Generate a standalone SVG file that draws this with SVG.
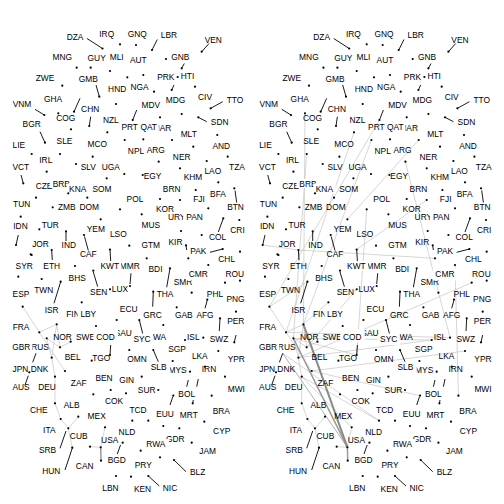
<svg xmlns="http://www.w3.org/2000/svg" width="504" height="504" viewBox="0 0 504 504">
<style>
text{font-family:"Liberation Sans",Arial,sans-serif;font-size:8.4px;text-anchor:middle;fill:#000}
circle{r:1.1px;fill:#000}
.s{stroke:#000;stroke-width:0.9;fill:none}
.bg{fill:#fff}
.e path{stroke:#c4c4c4;stroke-width:0.7;fill:none}
.e .t1{stroke:#8a8a8a;stroke-width:2}
.e .t2{stroke:#9a9a9a;stroke-width:1.5}
.e .t3{stroke:#b0b0b0;stroke-width:1}
</style>
<rect width="504" height="504" fill="#fff"/>
<g id="edges-a" class="e">
<path d="M22.7 306.7L39.3 332.3M39.3 332.3L56.7 324.3M39.3 332.3L65 371M56.7 324.3L60 347.3M56.7 324.3L51.7 357.7M46.7 338.3L60 347.3M60 347.3L70.7 341.7M46.7 338.3L51.7 357.7M51.7 357.7L55 376.7M55 376.7L55 403.3M55 403.3L60.7 419M60.7 419L68.3 428.3M78.3 416.7L68.3 428.3M68.3 428.3L72.3 447.7M90 446.7L100.7 447.3M105 427.3L100.7 447.3"/>
<path class="t2" d="M100.7 447.3L101 460.7"/>
</g>
<g id="edges-b" class="e" transform="translate(246.7,0)">
<path d="M22.7 306.7L39.3 332.3M39.3 332.3L56.7 324.3M39.3 332.3L65 371M56.7 324.3L60 347.3M56.7 324.3L51.7 357.7M46.7 338.3L60 347.3M60 347.3L70.7 341.7M46.7 338.3L51.7 357.7M51.7 357.7L55 376.7M55 376.7L55 403.3M55 403.3L60.7 419M60.7 419L68.3 428.3M78.3 416.7L68.3 428.3M68.3 428.3L72.3 447.7M90 446.7L100.7 447.3M105 427.3L100.7 447.3"/>
<path d="M58.3 113.3L56.7 324.3M60 154L46.7 338.3M107.3 132.3L39.3 332.3M132.7 120L22.7 306.7M124.7 140L56.7 324.3M172 140L100.7 219.3M180 200L110 249.5M158.7 161.7L203.3 337.7M120 209.3L110 355M16 245L51.7 250M51.7 250L188.3 258.3M22.7 306.7L60.7 281.7M110 289.3L60 347.3M81.7 302.3L56.7 324.3M46.7 338.3L185 340M39.3 332.3L203.3 337.7M51.7 357.7L185 340M51.7 357.7L225 282.7M65 371L218.3 351M55 376.7L132.3 420.7M36 353.3L132.3 420.7M65 371L173.3 395.7M55 376.7L105 427.3M208.3 265L211.7 395.7M46.7 338.3L110 355"/>
<path class="t3" d="M36 353.3L100.7 447.3"/>
<path class="t2" d="M46.7 338.3L100.7 447.3M100.7 447.3L101 460.7"/>
<path class="t1" d="M56.7 324.3L100.7 447.3"/>
</g>
<g id="nodes-a">
<g id="a-DZA"><path class="s" d="M87 38.5L102.5 48.5"/><circle cx="102.5" cy="48.5"/><text x="75" y="40">DZA</text></g>
<g id="a-IRQ"><circle cx="120" cy="44.3"/><text x="106.7" y="36.7">IRQ</text></g>
<g id="a-GNQ"><circle cx="136" cy="45"/><text x="137.3" y="36.7">GNQ</text></g>
<g id="a-LBR"><path class="s" d="M157.3 39.5L152 50"/><circle cx="152" cy="50"/><text x="169" y="38.3">LBR</text></g>
<g id="a-VEN"><path class="s" d="M209 43.5L201.7 51.7"/><circle cx="201.7" cy="51.7"/><text x="213.3" y="42.7">VEN</text></g>
<g id="a-MNG"><circle cx="76.7" cy="67.7"/><text x="62.2" y="60">MNG</text></g>
<g id="a-GUY"><circle cx="90.7" cy="67.7"/><text x="96.7" y="61">GUY</text></g>
<g id="a-MLI"><circle cx="110" cy="71"/><text x="116.7" y="60">MLI</text></g>
<g id="a-AUT"><circle cx="143.3" cy="75"/><text x="138.3" y="62.7">AUT</text></g>
<g id="a-GNB"><circle cx="166" cy="59"/><text x="180.3" y="60">GNB</text></g>
<g id="a-HTI"><path class="s" d="M184.3 63.5L181.7 68.3"/><circle cx="181.7" cy="68.3"/><text x="187.5" y="79.3">HTI</text></g>
<g id="a-PRK"><path class="s" d="M174 85L171.7 90"/><circle cx="171.7" cy="90"/><circle cx="177.7" cy="77"/><text x="165.8" y="80">PRK</text></g>
<g id="a-ZWE"><circle cx="62.3" cy="85.7"/><text x="45" y="80.7">ZWE</text></g>
<g id="a-GMB"><path class="s" d="M96 85L99.3 96.7"/><circle cx="99.3" cy="96.7"/><text x="88.3" y="81.7">GMB</text></g>
<g id="a-HND"><circle cx="116" cy="104"/><text x="117.2" y="91.7">HND</text></g>
<g id="a-NGA"><circle cx="154" cy="91.7"/><circle cx="127.3" cy="77.3"/><text x="139.5" y="90">NGA</text></g>
<g id="a-GHA"><path class="s" d="M80 98.3L74 111.7"/><circle cx="74" cy="111.7"/><text x="53" y="101.7">GHA</text></g>
<g id="a-MDG"><circle cx="181.7" cy="114"/><text x="175.5" y="102.7">MDG</text></g>
<g id="a-CIV"><circle cx="195" cy="86.7"/><text x="205" y="100">CIV</text></g>
<g id="a-TTO"><path class="s" d="M222.7 101.7L210.7 108.3"/><circle cx="210.7" cy="108.3"/><text x="235" y="102.7">TTO</text></g>
<g id="a-VNM"><path class="s" d="M35 109.3L44.3 115"/><circle cx="44.3" cy="115"/><text x="22" y="107.3">VNM</text></g>
<g id="a-COG"><circle cx="58.3" cy="113.3"/><circle cx="71" cy="129.3"/><text x="65.8" y="120.7">COG</text></g>
<g id="a-CHN"><path class="s" d="M90.7 116.7L89.3 126"/><circle cx="89.3" cy="126"/><text x="90.2" y="112.3">CHN</text></g>
<g id="a-NZL"><circle cx="107.3" cy="132.3"/><text x="110.8" y="123.3">NZL</text></g>
<g id="a-MDV"><path class="s" d="M136.7 110L132.7 120"/><circle cx="132.7" cy="120"/><text x="150.8" y="108.3">MDV</text></g>
<g id="a-PRT"><circle cx="124.7" cy="140"/><text x="129.7" y="130">PRT</text></g>
<g id="a-MAR"><circle cx="160" cy="117.3"/><text x="162" y="131">MAR</text></g>
<g id="a-QAT"><rect class="bg" x="139" y="122" width="19.8" height="10.5"/><circle cx="143.3" cy="139.3"/><text x="148.7" y="130">QAT</text></g>
<g id="a-MLT"><circle cx="172" cy="140"/><circle cx="193.3" cy="146.7"/><text x="188.7" y="136.7">MLT</text></g>
<g id="a-SDN"><path class="s" d="M206.7 121.7L198.3 117.3"/><circle cx="198.3" cy="117.3"/><text x="219.7" y="125">SDN</text></g>
<g id="a-AND"><circle cx="217.3" cy="135"/><text x="221.3" y="149.3">AND</text></g>
<g id="a-BGR"><path class="s" d="M40 131.7L45 142.7"/><circle cx="45" cy="142.7"/><text x="31.7" y="127.3">BGR</text></g>
<g id="a-SLE"><circle cx="60" cy="154"/><text x="64.5" y="144">SLE</text></g>
<g id="a-MCO"><circle cx="92.7" cy="156.7"/><text x="97.3" y="146.7">MCO</text></g>
<g id="a-LIE"><circle cx="31.7" cy="154"/><text x="18.8" y="148.3">LIE</text></g>
<g id="a-NPL"><circle cx="124.3" cy="174"/><text x="136" y="154">NPL</text></g>
<g id="a-ARG"><circle cx="158.7" cy="161.7"/><text x="155.8" y="153.3">ARG</text></g>
<g id="a-NER"><circle cx="180" cy="168.3"/><text x="181.7" y="160">NER</text></g>
<g id="a-IRL"><circle cx="46.7" cy="171.7"/><text x="45.8" y="163.3">IRL</text></g>
<g id="a-VCT"><path class="s" d="M21 175L23.3 183.3"/><circle cx="23.3" cy="183.3"/><text x="20.8" y="170">VCT</text></g>
<g id="a-SLV"><circle cx="76" cy="164"/><text x="88.3" y="170">SLV</text></g>
<g id="a-UGA"><circle cx="106.7" cy="178.3"/><text x="110.8" y="170">UGA</text></g>
<g id="a-EGY"><circle cx="142.7" cy="175"/><text x="152.5" y="179">EGY</text></g>
<g id="a-KHM"><circle cx="195.7" cy="190"/><text x="193" y="180">KHM</text></g>
<g id="a-LAO"><circle cx="206.7" cy="161"/><circle cx="218.3" cy="182.3"/><text x="212.8" y="174">LAO</text></g>
<g id="a-TZA"><circle cx="227.7" cy="156.7"/><text x="237" y="170">TZA</text></g>
<g id="a-CZE"><circle cx="36" cy="197.7"/><text x="44" y="189">CZE</text></g>
<g id="a-BRB"><rect class="bg" x="49.8" y="179" width="22" height="8.8"/><text x="61.3" y="186.7">BRB</text></g>
<g id="a-KNA"><rect class="bg" x="66.5" y="183.5" width="22.3" height="10"/><circle cx="68.3" cy="193.3"/><text x="77.7" y="191.7">KNA</text></g>
<g id="a-SOM"><circle cx="87.3" cy="197.7"/><text x="102" y="191.7">SOM</text></g>
<g id="a-BRN"><circle cx="180" cy="200"/><text x="171.7" y="191.7">BRN</text></g>
<g id="a-BFA"><circle cx="208.3" cy="208.3"/><text x="218" y="196.5">BFA</text></g>
<g id="a-BTN"><path class="s" d="M236.7 202.5L235 190.5"/><circle cx="234.3" cy="188.3"/><text x="235.5" y="210">BTN</text></g>
<g id="a-TUN"><circle cx="20.7" cy="216.7"/><text x="21.7" y="206.7">TUN</text></g>
<g id="a-ZMB"><circle cx="52.7" cy="207.3"/><text x="66.8" y="210">ZMB</text></g>
<g id="a-DOM"><circle cx="100.7" cy="219.3"/><text x="89.2" y="210">DOM</text></g>
<g id="a-POL"><circle cx="120" cy="209.3"/><text x="135" y="201.7">POL</text></g>
<g id="a-FJI"><text x="199" y="201.7">FJI</text></g>
<g id="a-KOR"><circle cx="160" cy="199"/><text x="165" y="211.7">KOR</text></g>
<g id="a-IDN"><path class="s" d="M18.3 235L16 245"/><circle cx="16" cy="245"/><text x="20.5" y="229">IDN</text></g>
<g id="a-TUR"><circle cx="39.3" cy="229.3"/><text x="50.3" y="228.3">TUR</text></g>
<g id="a-IND"><path class="s" d="M66 241L66 232"/><circle cx="66" cy="231.3"/><text x="68.8" y="247.7">IND</text></g>
<g id="a-YEM"><text x="95.8" y="231.7">YEM</text></g>
<g id="a-MUS"><circle cx="141.7" cy="214.3"/><text x="150.8" y="228.3">MUS</text></g>
<g id="a-LSO"><text x="118.3" y="236.7">LSO</text></g>
<g id="a-URY"><circle cx="181" cy="231"/><text x="176.7" y="220">URY</text></g>
<g id="a-PAN"><rect class="bg" x="183.2" y="212" width="22" height="10"/><circle cx="201.7" cy="235"/><text x="194.5" y="220">PAN</text></g>
<g id="a-COL"><path class="s" d="M218.3 232L223.3 218.3"/><circle cx="223.3" cy="218.3"/><text x="217.5" y="240">COL</text></g>
<g id="a-CRI"><circle cx="239.3" cy="220"/><text x="237.5" y="233.3">CRI</text></g>
<g id="a-JOR"><circle cx="30.7" cy="254.3"/><text x="40.5" y="246.7">JOR</text></g>
<g id="a-GTM"><circle cx="129.3" cy="245.7"/><text x="150.8" y="247.7">GTM</text></g>
<g id="a-KIR"><path class="s" d="M186 245.7L186.7 250"/><circle cx="186" cy="245.3"/><text x="175.5" y="245">KIR</text></g>
<g id="a-PAK"><path class="s" d="M210 252.3L222.7 249"/><circle cx="222.7" cy="249"/><circle cx="188.3" cy="258.3"/><text x="198.3" y="254">PAK</text></g>
<g id="a-CAF"><path class="s" d="M88.3 250.5L84.5 236.5"/><circle cx="84" cy="235"/><text x="88.3" y="257.3">CAF</text></g>
<g id="a-ETH"><path class="s" d="M52.3 260L51.7 250.5"/><circle cx="51.7" cy="250"/><text x="51.7" y="269">ETH</text></g>
<g id="a-MMR"><path class="s" d="M131 273.3L130 284"/><circle cx="130" cy="286"/><text x="129.8" y="269">MMR</text></g>
<g id="a-KWT"><rect class="bg" x="98" y="261" width="23.3" height="10"/><path class="s" d="M110.7 261L110 250"/><circle cx="110" cy="249.5"/><text x="109.7" y="269">KWT</text></g>
<g id="a-BDI"><circle cx="146.7" cy="258.3"/><text x="155.5" y="271.7">BDI</text></g>
<g id="a-SMR"><path class="s" d="M170 268.3L166.7 287.3"/><circle cx="170" cy="268.3"/><text x="183" y="285">SMR</text></g>
<g id="a-CMR"><rect class="bg" x="186" y="268.5" width="24" height="12"/><circle cx="208.3" cy="265"/><text x="198.2" y="276.7">CMR</text></g>
<g id="a-CHL"><circle cx="240" cy="251.7"/><text x="226.7" y="261.7">CHL</text></g>
<g id="a-ROU"><circle cx="225" cy="282.7"/><circle cx="240" cy="280.7"/><text x="234.7" y="276.7">ROU</text></g>
<g id="a-SYR"><circle cx="18.3" cy="276.7"/><circle cx="31.7" cy="255"/><text x="24.2" y="269">SYR</text></g>
<g id="a-TWN"><circle cx="41.7" cy="279"/><text x="43.8" y="293.3">TWN</text></g>
<g id="a-BHS"><circle cx="75" cy="266"/><text x="77.2" y="280.7">BHS</text></g>
<g id="a-SEN"><path class="s" d="M97.7 286.7L93.3 272"/><circle cx="93.3" cy="270.7"/><text x="98.7" y="295">SEN</text></g>
<g id="a-LUX"><circle cx="110" cy="289.3"/><text x="120" y="291.7">LUX</text></g>
<g id="a-THA"><text x="165" y="296.7">THA</text></g>
<g id="a-ESP"><circle cx="22.7" cy="306.7"/><text x="21" y="297.3">ESP</text></g>
<g id="a-PHL"><path class="s" d="M207.3 300L205 308.3"/><circle cx="207.3" cy="299.5"/><circle cx="191.7" cy="292.7"/><text x="215" y="296.7">PHL</text></g>
<g id="a-PNG"><circle cx="236" cy="311.7"/><text x="235.5" y="301.7">PNG</text></g>
<g id="a-ISR"><path class="s" d="M54 303.3L60.7 281.7"/><circle cx="60.7" cy="281.7"/><circle cx="56.7" cy="324.3"/><text x="51.7" y="313.3">ISR</text></g>
<g id="a-FIN"><circle cx="81.7" cy="302.3"/><text x="73" y="316.7">FIN</text></g>
<g id="a-LBY"><rect class="bg" x="77.8" y="309" width="21" height="10.5"/><circle cx="96" cy="326"/><text x="88.3" y="316.7">LBY</text></g>
<g id="a-ECU"><circle cx="116.7" cy="320"/><text x="128.7" y="311.7">ECU</text></g>
<g id="a-GRC"><path class="s" d="M152.7 306.7L153.3 291.7"/><circle cx="153.3" cy="291.7"/><circle cx="163.3" cy="325"/><text x="152.5" y="318.3">GRC</text></g>
<g id="a-GAB"><circle cx="176.7" cy="307.3"/><text x="183.8" y="318.3">GAB</text></g>
<g id="a-AFG"><text x="205" y="318.3">AFG</text></g>
<g id="a-PER"><path class="s" d="M236 335L234.3 342.3"/><circle cx="234.3" cy="342.3"/><text x="235.8" y="324">PER</text></g>
<g id="a-SWZ"><path class="s" d="M219.3 331L220 318.5"/><circle cx="220" cy="318.3"/><text x="219" y="342.3">SWZ</text></g>
<g id="a-FRA"><circle cx="39.3" cy="332.3"/><text x="21" y="329.5">FRA</text></g>
<g id="a-NOR"><circle cx="46.7" cy="338.3"/><circle cx="60" cy="347.3"/><circle cx="70.7" cy="341.7"/><text x="62.5" y="340">NOR</text></g>
<g id="a-SWE"><text x="85.5" y="340">SWE</text></g>
<g id="a-SAU"><text x="123.3" y="335.7">SAU</text></g>
<g id="a-COD"><rect class="bg" x="93.5" y="329" width="24.5" height="13"/><path class="s" d="M110.7 345L110 355"/><circle cx="110" cy="355"/><text x="105.5" y="340">COD</text></g>
<g id="a-BWA"><text x="156.7" y="340">BWA</text></g>
<g id="a-SYC"><rect class="bg" x="131" y="334" width="22" height="11"/><path class="s" d="M139.3 320L142.7 333.5"/><circle cx="139.3" cy="320"/><text x="142" y="342.3">SYC</text></g>
<g id="a-ISL"><circle cx="185" cy="340"/><circle cx="203.3" cy="337.7"/><text x="193.3" y="340">ISL</text></g>
<g id="a-RUS"><text x="40" y="350">RUS</text></g>
<g id="a-GBR"><rect class="bg" x="9.7" y="342" width="22.8" height="10.5"/><path class="s" d="M36 353.3L32.7 362.3"/><text x="21.3" y="350">GBR</text></g>
<g id="a-TGO"><circle cx="91.7" cy="360.7"/><text x="101.3" y="360.7">TGO</text></g>
<g id="a-BEL"><circle cx="51.7" cy="357.7"/><text x="72.7" y="360">BEL</text></g>
<g id="a-OMN"><circle cx="129.3" cy="350"/><text x="137" y="362.3">OMN</text></g>
<g id="a-SGP"><circle cx="172.7" cy="361"/><text x="177" y="352.3">SGP</text></g>
<g id="a-LKA"><circle cx="218.3" cy="351"/><text x="199.8" y="359">LKA</text></g>
<g id="a-YPR"><text x="236.3" y="362.3">YPR</text></g>
<g id="a-MYS"><path class="s" d="M188.3 380L186.7 386.7"/><circle cx="190" cy="371.7"/><text x="177.5" y="373.3">MYS</text></g>
<g id="a-SLB"><rect class="bg" x="148.3" y="362" width="21.8" height="12"/><path class="s" d="M153.3 350L158.3 361.7"/><circle cx="153.3" cy="350"/><text x="158.7" y="370">SLB</text></g>
<g id="a-JPN"><circle cx="29.3" cy="372.3"/><text x="20.5" y="372.3">JPN</text></g>
<g id="a-DNK"><circle cx="65" cy="371"/><text x="39.5" y="372.3">DNK</text></g>
<g id="a-IRN"><path class="s" d="M198.3 379L196.7 386.7"/><circle cx="225" cy="376.7"/><circle cx="205" cy="366.7"/><text x="209" y="371.7">IRN</text></g>
<g id="a-ZAF"><circle cx="93.3" cy="394.3"/><text x="78.7" y="385.7">ZAF</text></g>
<g id="a-BEN"><circle cx="110.7" cy="390"/><text x="104" y="381">BEN</text></g>
<g id="a-GIN"><circle cx="126" cy="393.3"/><circle cx="141.7" cy="376.7"/><text x="126.7" y="383.3">GIN</text></g>
<g id="a-SUR"><circle cx="158.3" cy="390"/><text x="146.7" y="393.3">SUR</text></g>
<g id="a-AUS"><path class="s" d="M28.3 375.7L25 385"/><text x="21" y="390">AUS</text></g>
<g id="a-DEU"><circle cx="55" cy="376.7"/><text x="47" y="390">DEU</text></g>
<g id="a-BOL"><circle cx="173.3" cy="395.7"/><text x="186.7" y="396.7">BOL</text></g>
<g id="a-MWI"><circle cx="211.7" cy="395.7"/><text x="236.3" y="391.7">MWI</text></g>
<g id="a-COK"><text x="114" y="404.3">COK</text></g>
<g id="a-ALB"><circle cx="55" cy="403.3"/><text x="71.7" y="408">ALB</text></g>
<g id="a-CHE"><circle cx="60.7" cy="419"/><text x="38.8" y="412.7">CHE</text></g>
<g id="a-TCD"><circle cx="132.3" cy="420.7"/><circle cx="148.3" cy="420.7"/><text x="138" y="413.3">TCD</text></g>
<g id="a-EUU"><path class="s" d="M170 405L172.7 397"/><circle cx="163.3" cy="426"/><text x="165" y="416.7">EUU</text></g>
<g id="a-MRT"><path class="s" d="M192.7 403.3L193.3 400"/><circle cx="192.7" cy="403.3"/><circle cx="179.3" cy="428.3"/><text x="188.8" y="418.3">MRT</text></g>
<g id="a-BRA"><circle cx="204.3" cy="421.7"/><text x="221.3" y="414">BRA</text></g>
<g id="a-MEX"><circle cx="78.3" cy="416.7"/><circle cx="105" cy="427.3"/><text x="96.7" y="419.3">MEX</text></g>
<g id="a-ITA"><circle cx="68.3" cy="428.3"/><text x="49.3" y="433.3">ITA</text></g>
<g id="a-CUB"><circle cx="90" cy="446.7"/><text x="78.7" y="439.3">CUB</text></g>
<g id="a-NLD"><text x="127" y="435">NLD</text></g>
<g id="a-USA"><circle cx="100.7" cy="447.3"/><text x="109.7" y="442.7">USA</text></g>
<g id="a-BGD"><path class="s" d="M117.3 454L120.5 445"/><circle cx="122.7" cy="442.7"/><circle cx="101" cy="460.7"/><text x="116.8" y="463.3">BGD</text></g>
<g id="a-CYP"><text x="221.7" y="434.3">CYP</text></g>
<g id="a-GDR"><circle cx="191.7" cy="442.7"/><text x="175.3" y="441.7">GDR</text></g>
<g id="a-RWA"><rect class="bg" x="143.5" y="439" width="25.5" height="11"/><circle cx="140.7" cy="450.7"/><text x="155.8" y="447.3">RWA</text></g>
<g id="a-SRB"><path class="s" d="M60 448.3L66 431"/><text x="47.5" y="453.3">SRB</text></g>
<g id="a-PRY"><circle cx="160" cy="457.3"/><text x="143.3" y="468.3">PRY</text></g>
<g id="a-JAM"><text x="207.7" y="454">JAM</text></g>
<g id="a-CAN"><text x="84.7" y="469.3">CAN</text></g>
<g id="a-HUN"><path class="s" d="M65 470L72.3 448"/><circle cx="72.3" cy="447.7"/><text x="51.3" y="474">HUN</text></g>
<g id="a-BLZ"><path class="s" d="M186 471.7L174 460"/><circle cx="174" cy="460"/><text x="197.7" y="475">BLZ</text></g>
<g id="a-LBN"><circle cx="116" cy="476"/><text x="110.5" y="490.7">LBN</text></g>
<g id="a-KEN"><circle cx="131" cy="476.7"/><text x="142.5" y="491.7">KEN</text></g>
<g id="a-NIC"><path class="s" d="M159.3 486L148.3 476"/><circle cx="148.3" cy="476"/><text x="170" y="490.7">NIC</text></g>
</g>
<g id="nodes-b" transform="translate(246.7,0)">
<g id="b-DZA"><path class="s" d="M87 38.5L102.5 48.5"/><circle cx="102.5" cy="48.5"/><text x="75" y="40">DZA</text></g>
<g id="b-IRQ"><circle cx="120" cy="44.3"/><text x="106.7" y="36.7">IRQ</text></g>
<g id="b-GNQ"><circle cx="136" cy="45"/><text x="137.3" y="36.7">GNQ</text></g>
<g id="b-LBR"><path class="s" d="M157.3 39.5L152 50"/><circle cx="152" cy="50"/><text x="169" y="38.3">LBR</text></g>
<g id="b-VEN"><path class="s" d="M209 43.5L201.7 51.7"/><circle cx="201.7" cy="51.7"/><text x="213.3" y="42.7">VEN</text></g>
<g id="b-MNG"><circle cx="76.7" cy="67.7"/><text x="62.2" y="60">MNG</text></g>
<g id="b-GUY"><circle cx="90.7" cy="67.7"/><text x="96.7" y="61">GUY</text></g>
<g id="b-MLI"><circle cx="110" cy="71"/><text x="116.7" y="60">MLI</text></g>
<g id="b-AUT"><circle cx="143.3" cy="75"/><text x="138.3" y="62.7">AUT</text></g>
<g id="b-GNB"><circle cx="166" cy="59"/><text x="180.3" y="60">GNB</text></g>
<g id="b-HTI"><path class="s" d="M184.3 63.5L181.7 68.3"/><circle cx="181.7" cy="68.3"/><text x="187.5" y="79.3">HTI</text></g>
<g id="b-PRK"><path class="s" d="M174 85L171.7 90"/><circle cx="171.7" cy="90"/><circle cx="177.7" cy="77"/><text x="165.8" y="80">PRK</text></g>
<g id="b-ZWE"><circle cx="62.3" cy="85.7"/><text x="45" y="80.7">ZWE</text></g>
<g id="b-GMB"><path class="s" d="M96 85L99.3 96.7"/><circle cx="99.3" cy="96.7"/><text x="88.3" y="81.7">GMB</text></g>
<g id="b-HND"><circle cx="116" cy="104"/><text x="117.2" y="91.7">HND</text></g>
<g id="b-NGA"><circle cx="154" cy="91.7"/><circle cx="127.3" cy="77.3"/><text x="139.5" y="90">NGA</text></g>
<g id="b-GHA"><path class="s" d="M80 98.3L74 111.7"/><circle cx="74" cy="111.7"/><text x="53" y="101.7">GHA</text></g>
<g id="b-MDG"><circle cx="181.7" cy="114"/><text x="175.5" y="102.7">MDG</text></g>
<g id="b-CIV"><circle cx="195" cy="86.7"/><text x="205" y="100">CIV</text></g>
<g id="b-TTO"><path class="s" d="M222.7 101.7L210.7 108.3"/><circle cx="210.7" cy="108.3"/><text x="235" y="102.7">TTO</text></g>
<g id="b-VNM"><path class="s" d="M35 109.3L44.3 115"/><circle cx="44.3" cy="115"/><text x="22" y="107.3">VNM</text></g>
<g id="b-COG"><circle cx="58.3" cy="113.3"/><circle cx="71" cy="129.3"/><text x="65.8" y="120.7">COG</text></g>
<g id="b-CHN"><path class="s" d="M90.7 116.7L89.3 126"/><circle cx="89.3" cy="126"/><text x="90.2" y="112.3">CHN</text></g>
<g id="b-NZL"><circle cx="107.3" cy="132.3"/><text x="110.8" y="123.3">NZL</text></g>
<g id="b-MDV"><path class="s" d="M136.7 110L132.7 120"/><circle cx="132.7" cy="120"/><text x="150.8" y="108.3">MDV</text></g>
<g id="b-PRT"><circle cx="124.7" cy="140"/><text x="129.7" y="130">PRT</text></g>
<g id="b-MAR"><circle cx="160" cy="117.3"/><text x="162" y="131">MAR</text></g>
<g id="b-QAT"><rect class="bg" x="139" y="122" width="19.8" height="10.5"/><circle cx="143.3" cy="139.3"/><text x="148.7" y="130">QAT</text></g>
<g id="b-MLT"><circle cx="172" cy="140"/><circle cx="193.3" cy="146.7"/><text x="188.7" y="136.7">MLT</text></g>
<g id="b-SDN"><path class="s" d="M206.7 121.7L198.3 117.3"/><circle cx="198.3" cy="117.3"/><text x="219.7" y="125">SDN</text></g>
<g id="b-AND"><circle cx="217.3" cy="135"/><text x="221.3" y="149.3">AND</text></g>
<g id="b-BGR"><path class="s" d="M40 131.7L45 142.7"/><circle cx="45" cy="142.7"/><text x="31.7" y="127.3">BGR</text></g>
<g id="b-SLE"><circle cx="60" cy="154"/><text x="64.5" y="144">SLE</text></g>
<g id="b-MCO"><circle cx="92.7" cy="156.7"/><text x="97.3" y="146.7">MCO</text></g>
<g id="b-LIE"><circle cx="31.7" cy="154"/><text x="18.8" y="148.3">LIE</text></g>
<g id="b-NPL"><circle cx="124.3" cy="174"/><text x="136" y="154">NPL</text></g>
<g id="b-ARG"><circle cx="158.7" cy="161.7"/><text x="155.8" y="153.3">ARG</text></g>
<g id="b-NER"><circle cx="180" cy="168.3"/><text x="181.7" y="160">NER</text></g>
<g id="b-IRL"><circle cx="46.7" cy="171.7"/><text x="45.8" y="163.3">IRL</text></g>
<g id="b-VCT"><path class="s" d="M21 175L23.3 183.3"/><circle cx="23.3" cy="183.3"/><text x="20.8" y="170">VCT</text></g>
<g id="b-SLV"><circle cx="76" cy="164"/><text x="88.3" y="170">SLV</text></g>
<g id="b-UGA"><circle cx="106.7" cy="178.3"/><text x="110.8" y="170">UGA</text></g>
<g id="b-EGY"><circle cx="142.7" cy="175"/><text x="152.5" y="179">EGY</text></g>
<g id="b-KHM"><circle cx="195.7" cy="190"/><text x="193" y="180">KHM</text></g>
<g id="b-LAO"><circle cx="206.7" cy="161"/><circle cx="218.3" cy="182.3"/><text x="212.8" y="174">LAO</text></g>
<g id="b-TZA"><circle cx="227.7" cy="156.7"/><text x="237" y="170">TZA</text></g>
<g id="b-CZE"><circle cx="36" cy="197.7"/><text x="44" y="189">CZE</text></g>
<g id="b-BRB"><rect class="bg" x="49.8" y="179" width="22" height="8.8"/><text x="61.3" y="186.7">BRB</text></g>
<g id="b-KNA"><rect class="bg" x="66.5" y="183.5" width="22.3" height="10"/><circle cx="68.3" cy="193.3"/><text x="77.7" y="191.7">KNA</text></g>
<g id="b-SOM"><circle cx="87.3" cy="197.7"/><text x="102" y="191.7">SOM</text></g>
<g id="b-BRN"><circle cx="180" cy="200"/><text x="171.7" y="191.7">BRN</text></g>
<g id="b-BFA"><circle cx="208.3" cy="208.3"/><text x="218" y="196.5">BFA</text></g>
<g id="b-BTN"><path class="s" d="M236.7 202.5L235 190.5"/><circle cx="234.3" cy="188.3"/><text x="235.5" y="210">BTN</text></g>
<g id="b-TUN"><circle cx="20.7" cy="216.7"/><text x="21.7" y="206.7">TUN</text></g>
<g id="b-ZMB"><circle cx="52.7" cy="207.3"/><text x="66.8" y="210">ZMB</text></g>
<g id="b-DOM"><circle cx="100.7" cy="219.3"/><text x="89.2" y="210">DOM</text></g>
<g id="b-POL"><circle cx="120" cy="209.3"/><text x="135" y="201.7">POL</text></g>
<g id="b-FJI"><text x="199" y="201.7">FJI</text></g>
<g id="b-KOR"><circle cx="160" cy="199"/><text x="165" y="211.7">KOR</text></g>
<g id="b-IDN"><path class="s" d="M18.3 235L16 245"/><circle cx="16" cy="245"/><text x="20.5" y="229">IDN</text></g>
<g id="b-TUR"><circle cx="39.3" cy="229.3"/><text x="50.3" y="228.3">TUR</text></g>
<g id="b-IND"><path class="s" d="M66 241L66 232"/><circle cx="66" cy="231.3"/><text x="68.8" y="247.7">IND</text></g>
<g id="b-YEM"><text x="95.8" y="231.7">YEM</text></g>
<g id="b-MUS"><circle cx="141.7" cy="214.3"/><text x="150.8" y="228.3">MUS</text></g>
<g id="b-LSO"><text x="118.3" y="236.7">LSO</text></g>
<g id="b-URY"><circle cx="181" cy="231"/><text x="176.7" y="220">URY</text></g>
<g id="b-PAN"><rect class="bg" x="183.2" y="212" width="22" height="10"/><circle cx="201.7" cy="235"/><text x="194.5" y="220">PAN</text></g>
<g id="b-COL"><path class="s" d="M218.3 232L223.3 218.3"/><circle cx="223.3" cy="218.3"/><text x="217.5" y="240">COL</text></g>
<g id="b-CRI"><circle cx="239.3" cy="220"/><text x="237.5" y="233.3">CRI</text></g>
<g id="b-JOR"><circle cx="30.7" cy="254.3"/><text x="40.5" y="246.7">JOR</text></g>
<g id="b-GTM"><circle cx="129.3" cy="245.7"/><text x="150.8" y="247.7">GTM</text></g>
<g id="b-KIR"><path class="s" d="M186 245.7L186.7 250"/><circle cx="186" cy="245.3"/><text x="175.5" y="245">KIR</text></g>
<g id="b-PAK"><path class="s" d="M210 252.3L222.7 249"/><circle cx="222.7" cy="249"/><circle cx="188.3" cy="258.3"/><text x="198.3" y="254">PAK</text></g>
<g id="b-CAF"><path class="s" d="M88.3 250.5L84.5 236.5"/><circle cx="84" cy="235"/><text x="88.3" y="257.3">CAF</text></g>
<g id="b-ETH"><path class="s" d="M52.3 260L51.7 250.5"/><circle cx="51.7" cy="250"/><text x="51.7" y="269">ETH</text></g>
<g id="b-MMR"><path class="s" d="M131 273.3L130 284"/><circle cx="130" cy="286"/><text x="129.8" y="269">MMR</text></g>
<g id="b-KWT"><rect class="bg" x="98" y="261" width="23.3" height="10"/><path class="s" d="M110.7 261L110 250"/><circle cx="110" cy="249.5"/><text x="109.7" y="269">KWT</text></g>
<g id="b-BDI"><circle cx="146.7" cy="258.3"/><text x="155.5" y="271.7">BDI</text></g>
<g id="b-SMR"><path class="s" d="M170 268.3L166.7 287.3"/><circle cx="170" cy="268.3"/><text x="183" y="285">SMR</text></g>
<g id="b-CMR"><rect class="bg" x="186" y="268.5" width="24" height="12"/><circle cx="208.3" cy="265"/><text x="198.2" y="276.7">CMR</text></g>
<g id="b-CHL"><circle cx="240" cy="251.7"/><text x="226.7" y="261.7">CHL</text></g>
<g id="b-ROU"><circle cx="225" cy="282.7"/><circle cx="240" cy="280.7"/><text x="234.7" y="276.7">ROU</text></g>
<g id="b-SYR"><circle cx="18.3" cy="276.7"/><circle cx="31.7" cy="255"/><text x="24.2" y="269">SYR</text></g>
<g id="b-TWN"><circle cx="41.7" cy="279"/><text x="43.8" y="293.3">TWN</text></g>
<g id="b-BHS"><circle cx="75" cy="266"/><text x="77.2" y="280.7">BHS</text></g>
<g id="b-SEN"><path class="s" d="M97.7 286.7L93.3 272"/><circle cx="93.3" cy="270.7"/><text x="98.7" y="295">SEN</text></g>
<g id="b-LUX"><circle cx="110" cy="289.3"/><text x="120" y="291.7">LUX</text></g>
<g id="b-THA"><text x="165" y="296.7">THA</text></g>
<g id="b-ESP"><circle cx="22.7" cy="306.7"/><text x="21" y="297.3">ESP</text></g>
<g id="b-PHL"><path class="s" d="M207.3 300L205 308.3"/><circle cx="207.3" cy="299.5"/><circle cx="191.7" cy="292.7"/><text x="215" y="296.7">PHL</text></g>
<g id="b-PNG"><circle cx="236" cy="311.7"/><text x="235.5" y="301.7">PNG</text></g>
<g id="b-ISR"><path class="s" d="M54 303.3L60.7 281.7"/><circle cx="60.7" cy="281.7"/><circle cx="56.7" cy="324.3"/><text x="51.7" y="313.3">ISR</text></g>
<g id="b-FIN"><circle cx="81.7" cy="302.3"/><text x="73" y="316.7">FIN</text></g>
<g id="b-LBY"><rect class="bg" x="77.8" y="309" width="21" height="10.5"/><circle cx="96" cy="326"/><text x="88.3" y="316.7">LBY</text></g>
<g id="b-ECU"><circle cx="116.7" cy="320"/><text x="128.7" y="311.7">ECU</text></g>
<g id="b-GRC"><path class="s" d="M152.7 306.7L153.3 291.7"/><circle cx="153.3" cy="291.7"/><circle cx="163.3" cy="325"/><text x="152.5" y="318.3">GRC</text></g>
<g id="b-GAB"><circle cx="176.7" cy="307.3"/><text x="183.8" y="318.3">GAB</text></g>
<g id="b-AFG"><text x="205" y="318.3">AFG</text></g>
<g id="b-PER"><path class="s" d="M236 335L234.3 342.3"/><circle cx="234.3" cy="342.3"/><text x="235.8" y="324">PER</text></g>
<g id="b-SWZ"><path class="s" d="M219.3 331L220 318.5"/><circle cx="220" cy="318.3"/><text x="219" y="342.3">SWZ</text></g>
<g id="b-FRA"><circle cx="39.3" cy="332.3"/><text x="21" y="329.5">FRA</text></g>
<g id="b-NOR"><circle cx="46.7" cy="338.3"/><circle cx="60" cy="347.3"/><circle cx="70.7" cy="341.7"/><text x="62.5" y="340">NOR</text></g>
<g id="b-SWE"><text x="85.5" y="340">SWE</text></g>
<g id="b-SAU"><text x="123.3" y="335.7">SAU</text></g>
<g id="b-COD"><rect class="bg" x="93.5" y="329" width="24.5" height="13"/><path class="s" d="M110.7 345L110 355"/><circle cx="110" cy="355"/><text x="105.5" y="340">COD</text></g>
<g id="b-BWA"><text x="156.7" y="340">BWA</text></g>
<g id="b-SYC"><rect class="bg" x="131" y="334" width="22" height="11"/><path class="s" d="M139.3 320L142.7 333.5"/><circle cx="139.3" cy="320"/><text x="142" y="342.3">SYC</text></g>
<g id="b-ISL"><circle cx="185" cy="340"/><circle cx="203.3" cy="337.7"/><text x="193.3" y="340">ISL</text></g>
<g id="b-RUS"><text x="40" y="350">RUS</text></g>
<g id="b-GBR"><rect class="bg" x="9.7" y="342" width="22.8" height="10.5"/><path class="s" d="M36 353.3L32.7 362.3"/><text x="21.3" y="350">GBR</text></g>
<g id="b-TGO"><circle cx="91.7" cy="360.7"/><text x="101.3" y="360.7">TGO</text></g>
<g id="b-BEL"><circle cx="51.7" cy="357.7"/><text x="72.7" y="360">BEL</text></g>
<g id="b-OMN"><circle cx="129.3" cy="350"/><text x="137" y="362.3">OMN</text></g>
<g id="b-SGP"><circle cx="172.7" cy="361"/><text x="177" y="352.3">SGP</text></g>
<g id="b-LKA"><circle cx="218.3" cy="351"/><text x="199.8" y="359">LKA</text></g>
<g id="b-YPR"><text x="236.3" y="362.3">YPR</text></g>
<g id="b-MYS"><path class="s" d="M188.3 380L186.7 386.7"/><circle cx="190" cy="371.7"/><text x="177.5" y="373.3">MYS</text></g>
<g id="b-SLB"><rect class="bg" x="148.3" y="362" width="21.8" height="12"/><path class="s" d="M153.3 350L158.3 361.7"/><circle cx="153.3" cy="350"/><text x="158.7" y="370">SLB</text></g>
<g id="b-JPN"><circle cx="29.3" cy="372.3"/><text x="20.5" y="372.3">JPN</text></g>
<g id="b-DNK"><circle cx="65" cy="371"/><text x="39.5" y="372.3">DNK</text></g>
<g id="b-IRN"><path class="s" d="M198.3 379L196.7 386.7"/><circle cx="225" cy="376.7"/><circle cx="205" cy="366.7"/><text x="209" y="371.7">IRN</text></g>
<g id="b-ZAF"><circle cx="93.3" cy="394.3"/><text x="78.7" y="385.7">ZAF</text></g>
<g id="b-BEN"><circle cx="110.7" cy="390"/><text x="104" y="381">BEN</text></g>
<g id="b-GIN"><circle cx="126" cy="393.3"/><circle cx="141.7" cy="376.7"/><text x="126.7" y="383.3">GIN</text></g>
<g id="b-SUR"><circle cx="158.3" cy="390"/><text x="146.7" y="393.3">SUR</text></g>
<g id="b-AUS"><path class="s" d="M28.3 375.7L25 385"/><text x="21" y="390">AUS</text></g>
<g id="b-DEU"><circle cx="55" cy="376.7"/><text x="47" y="390">DEU</text></g>
<g id="b-BOL"><circle cx="173.3" cy="395.7"/><text x="186.7" y="396.7">BOL</text></g>
<g id="b-MWI"><circle cx="211.7" cy="395.7"/><text x="236.3" y="391.7">MWI</text></g>
<g id="b-COK"><text x="114" y="404.3">COK</text></g>
<g id="b-ALB"><circle cx="55" cy="403.3"/><text x="71.7" y="408">ALB</text></g>
<g id="b-CHE"><circle cx="60.7" cy="419"/><text x="38.8" y="412.7">CHE</text></g>
<g id="b-TCD"><circle cx="132.3" cy="420.7"/><circle cx="148.3" cy="420.7"/><text x="138" y="413.3">TCD</text></g>
<g id="b-EUU"><path class="s" d="M170 405L172.7 397"/><circle cx="163.3" cy="426"/><text x="165" y="416.7">EUU</text></g>
<g id="b-MRT"><path class="s" d="M192.7 403.3L193.3 400"/><circle cx="192.7" cy="403.3"/><circle cx="179.3" cy="428.3"/><text x="188.8" y="418.3">MRT</text></g>
<g id="b-BRA"><circle cx="204.3" cy="421.7"/><text x="221.3" y="414">BRA</text></g>
<g id="b-MEX"><circle cx="78.3" cy="416.7"/><circle cx="105" cy="427.3"/><text x="96.7" y="419.3">MEX</text></g>
<g id="b-ITA"><circle cx="68.3" cy="428.3"/><text x="49.3" y="433.3">ITA</text></g>
<g id="b-CUB"><circle cx="90" cy="446.7"/><text x="78.7" y="439.3">CUB</text></g>
<g id="b-NLD"><text x="127" y="435">NLD</text></g>
<g id="b-USA"><circle cx="100.7" cy="447.3"/><text x="109.7" y="442.7">USA</text></g>
<g id="b-BGD"><path class="s" d="M117.3 454L120.5 445"/><circle cx="122.7" cy="442.7"/><circle cx="101" cy="460.7"/><text x="116.8" y="463.3">BGD</text></g>
<g id="b-CYP"><text x="221.7" y="434.3">CYP</text></g>
<g id="b-GDR"><circle cx="191.7" cy="442.7"/><text x="175.3" y="441.7">GDR</text></g>
<g id="b-RWA"><rect class="bg" x="143.5" y="439" width="25.5" height="11"/><circle cx="140.7" cy="450.7"/><text x="155.8" y="447.3">RWA</text></g>
<g id="b-SRB"><path class="s" d="M60 448.3L66 431"/><text x="47.5" y="453.3">SRB</text></g>
<g id="b-PRY"><circle cx="160" cy="457.3"/><text x="143.3" y="468.3">PRY</text></g>
<g id="b-JAM"><text x="207.7" y="454">JAM</text></g>
<g id="b-CAN"><text x="84.7" y="469.3">CAN</text></g>
<g id="b-HUN"><path class="s" d="M65 470L72.3 448"/><circle cx="72.3" cy="447.7"/><text x="51.3" y="474">HUN</text></g>
<g id="b-BLZ"><path class="s" d="M186 471.7L174 460"/><circle cx="174" cy="460"/><text x="197.7" y="475">BLZ</text></g>
<g id="b-LBN"><circle cx="116" cy="476"/><text x="110.5" y="490.7">LBN</text></g>
<g id="b-KEN"><circle cx="131" cy="476.7"/><text x="142.5" y="491.7">KEN</text></g>
<g id="b-NIC"><path class="s" d="M159.3 486L148.3 476"/><circle cx="148.3" cy="476"/><text x="170" y="490.7">NIC</text></g>
</g>
</svg>
